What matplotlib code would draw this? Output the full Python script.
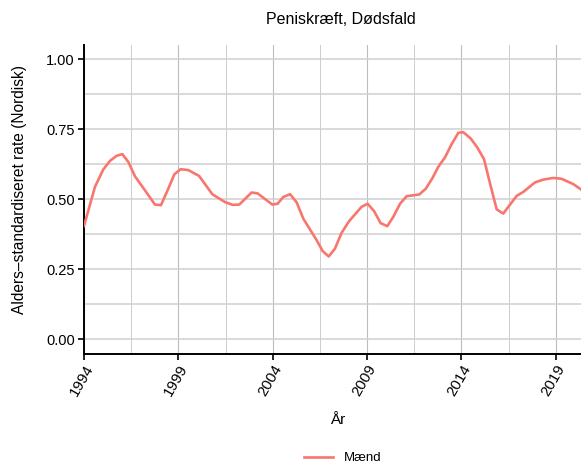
import matplotlib
matplotlib.use("Agg")
import matplotlib.pyplot as plt
from matplotlib.ticker import MultipleLocator, FixedLocator

plt.rcParams['font.family'] = ['Liberation Sans', 'DejaVu Sans']

title = "Peniskræft, Dødsfald"
x_label = "År"
y_label = "Alders–standardiseret rate (Nordisk)"
series_name = "Mænd"

years = [1994.0, 1994.58, 1995.02, 1995.38, 1995.73, 1996.03, 1996.35, 1996.7, 1997.23,
         1997.76, 1998.08, 1998.43, 1998.79, 1999.12, 1999.53, 2000.1, 2000.8, 2001.47,
         2001.88, 2002.23, 2002.88, 2003.2, 2003.98, 2004.26, 2004.56, 2004.92, 2005.27,
         2005.62, 2005.98, 2006.33, 2006.65, 2006.97, 2007.3, 2007.65, 2008.04, 2008.4,
         2008.71, 2009.03, 2009.37, 2009.72, 2010.07, 2010.39, 2010.75, 2011.1, 2011.77,
         2012.12, 2012.48, 2012.77, 2013.13, 2013.48, 2013.84, 2014.1, 2014.49, 2014.84,
         2015.2, 2015.52, 2015.87, 2016.22, 2016.58, 2016.93, 2017.28, 2017.9, 2018.34,
         2018.87, 2019.31, 2019.93, 2020.34]
rates = [0.405, 0.544, 0.606, 0.637, 0.655, 0.661, 0.633, 0.582, 0.532,
         0.481, 0.479, 0.532, 0.589, 0.607, 0.604, 0.583, 0.518, 0.490,
         0.480, 0.481, 0.524, 0.521, 0.481, 0.484, 0.508, 0.518, 0.489,
         0.431, 0.392, 0.354, 0.315, 0.296, 0.324, 0.380, 0.421, 0.449,
         0.473, 0.484, 0.458, 0.415, 0.404, 0.437, 0.484, 0.511, 0.517,
         0.538, 0.577, 0.615, 0.649, 0.696, 0.737, 0.739, 0.717, 0.685,
         0.643, 0.556, 0.464, 0.449, 0.481, 0.512, 0.526, 0.560, 0.570,
         0.576, 0.573, 0.554, 0.535]

x_ticks = [1994, 1999, 2004, 2009, 2014, 2019]
y_ticks = [0.0, 0.25, 0.5, 0.75, 1.0]
y_tick_labels = ["0.00", "0.25", "0.50", "0.75", "1.00"]

fig = plt.figure(figsize=(5.81, 4.66), dpi=100)
ax = fig.add_axes([84/581, 1 - 353.5/466, 1 - 84/581, (353.5 - 45)/466])

ax.plot(years, rates, color="#F8766D", linewidth=1.9, label=series_name, zorder=3)

ax.set_xlim(1994, 2020.34)
ax.set_ylim(-0.05, 1.05)
ax.set_xticks(x_ticks)
ax.set_xticklabels([str(t) for t in x_ticks], rotation=60, ha="right", va="top",
                   rotation_mode="anchor", fontsize=10.8)
ax.xaxis.set_minor_locator(FixedLocator([1996.5, 2001.5, 2006.5, 2011.5, 2016.5]))
ax.set_yticks(y_ticks)
ax.set_yticklabels(y_tick_labels, fontsize=10.5)
ax.yaxis.set_minor_locator(MultipleLocator(0.125))

ax.grid(which="major", axis="x", color="#bdbdbd", linewidth=0.8)
ax.grid(which="minor", axis="x", color="#cccccc", linewidth=0.7)
ax.grid(which="both", axis="y", color="#d0d0d0", linewidth=1.1)
ax.set_axisbelow(True)

for s in ["top", "right"]:
    ax.spines[s].set_visible(False)
for s in ["left", "bottom"]:
    ax.spines[s].set_linewidth(1.4)
    ax.spines[s].set_color("black")

ax.tick_params(which="major", length=4, width=1.2, color="black", labelcolor="black", pad=2.5)
ax.tick_params(which="minor", length=0)

ax.set_xlabel(x_label, fontsize=11, va="center", ha="center")
ax.xaxis.set_label_coords((338 - 84) / 497, (353.5 - 420) / 308.5)
ax.set_ylabel(y_label, fontsize=11.2, va="center", ha="center")
ax.yaxis.set_label_coords((20 - 84) / 497, (353.5 - 190) / 308.5)
fig.text(341 / 581, 1 - 20 / 466, title, ha="center", va="center", fontsize=11.5)

leg = fig.legend(loc="center", bbox_to_anchor=(343 / 581, 1 - 458 / 466), frameon=False,
                 fontsize=9.5, handlelength=2.2)

fig.savefig("out.png", dpi=100)
